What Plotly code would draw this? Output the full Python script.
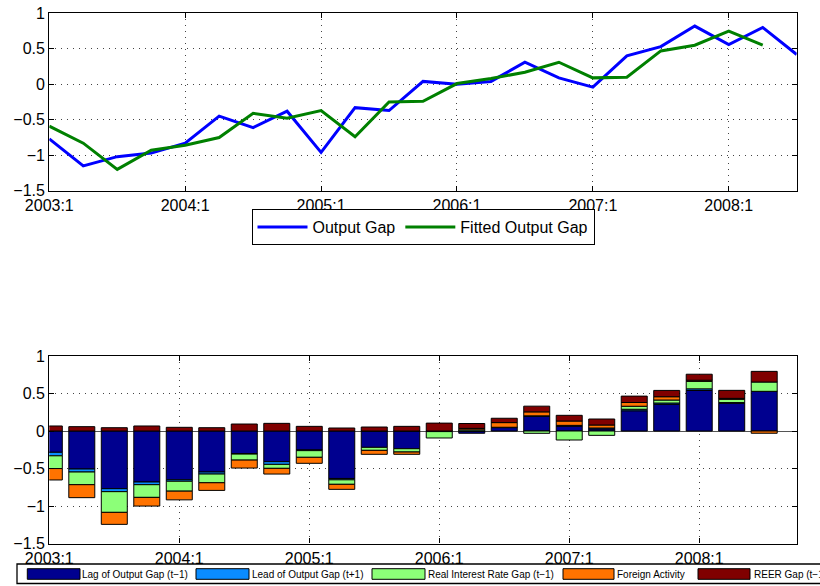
import plotly.graph_objects as go

# ---- data -------------------------------------------------------------
quarter_idx = list(range(23))                      # 2003:1 ... 2008:3
tick_idx = [0, 4, 8, 12, 16, 20]
tick_text = ["2003:1", "2004:1", "2005:1", "2006:1", "2007:1", "2008:1"]

output_gap = [-0.77, -1.15, -1.02, -0.97, -0.83, -0.45, -0.61, -0.38, -0.96, -0.33,
              -0.37, 0.04, 0.00, 0.04, 0.31, 0.09, -0.04, 0.40, 0.53, 0.82,
              0.56, 0.80, 0.42]
fitted_gap = [-0.59, -0.83, -1.20, -0.93, -0.86, -0.75, -0.41, -0.48, -0.37, -0.74,
              -0.25, -0.24, 0.01, 0.08, 0.17, 0.31, 0.09, 0.10, 0.47, 0.55,
              0.75, 0.55]

lag_gap = [-0.284, -0.507, -0.769, -0.680, -0.650, -0.547, -0.300, -0.409, -0.253, -0.633,
           -0.218, -0.236, -0.008, -0.030, 0.045, 0.196, 0.065, 0.028, 0.270, 0.355,
           0.540, 0.369, 0.529]
lead_gap = [-0.047, -0.040, -0.040, -0.036, -0.020, -0.027, -0.008, -0.036, -0.009, -0.018,
            0.0, 0.0, 0.0, 0.0, 0.005, 0.006, 0.010, 0.012, 0.020, 0.018,
            0.022, 0.010, 0.0]
real_rate_gap = [-0.170, -0.169, -0.276, -0.169, -0.132, -0.116, -0.080, -0.053, -0.089, -0.060,
                 -0.040, -0.044, -0.085, 0.015, 0.0, -0.031, -0.120, -0.058, 0.040, 0.040,
                 0.100, 0.044, 0.124]
foreign_activity = [-0.152, -0.173, -0.160, -0.116, -0.116, -0.102, -0.106, -0.076, -0.080, -0.067,
                    -0.053, -0.031, 0.0, 0.020, 0.062, 0.053, 0.058, 0.040, 0.050, 0.044,
                    0.015, 0.012, -0.030]
reer_gap = [0.067, 0.058, 0.044, 0.067, 0.049, 0.044, 0.093, 0.102, 0.062, 0.040,
            0.053, 0.062, 0.105, 0.065, 0.058, 0.076, 0.076, 0.080, 0.085, 0.084,
            0.080, 0.107, 0.142]

contrib_names = ["Lag of Output Gap (t\u22121)", "Lead of Output Gap (t+1)",
                 "Real Interest Rate Gap (t\u22121)", "Foreign Activity", "REER Gap (t\u22121)"]
contrib_values = [lag_gap, lead_gap, real_rate_gap, foreign_activity, reer_gap]
contrib_colors = ["#00008F", "#0A8CFF", "#8CFF78", "#FF7300", "#800000"]

# ---- geometry helpers (pixel -> paper) -------------------------------
W, H = 820, 586


def fx(p):
    return p / W


def fy(p):
    return 1 - p / H


FONT = "Liberation Sans, Arial, Helvetica, sans-serif"

fig = go.Figure()

# top panel: output gap vs fitted
fig.add_trace(go.Scatter(x=quarter_idx, y=output_gap, mode="lines", name="Output Gap",
                         line=dict(color="#0000FF", width=3), xaxis="x", yaxis="y"))
fig.add_trace(go.Scatter(x=quarter_idx[:len(fitted_gap)], y=fitted_gap, mode="lines",
                         name="Fitted Output Gap",
                         line=dict(color="#008000", width=3), xaxis="x", yaxis="y"))

# bottom panel: stacked contributions
for name, vals, col in zip(contrib_names, contrib_values, contrib_colors):
    fig.add_trace(go.Bar(x=quarter_idx, y=vals, name=name, width=0.8,
                         marker=dict(color=col, line=dict(color="black", width=1)),
                         showlegend=False, xaxis="x2", yaxis="y2"))

axis_common = dict(
    automargin=False,
    showline=True, linecolor="black", linewidth=1.3, mirror="allticks",
    ticks="inside", ticklen=5, tickcolor="black", tickwidth=1,
    showgrid=True, gridcolor="#444444", griddash="1px,5px", gridwidth=1,
    tickfont=dict(family=FONT, size=16, color="black"),
)

x_dom = [fx(49.3), fx(796.7)]

fig.update_layout(
    width=W, height=H,
    margin=dict(l=0, r=0, t=0, b=0, autoexpand=False),
    paper_bgcolor="white", plot_bgcolor="white",
    font=dict(family=FONT, color="black"),
    barmode="relative", bargap=0.2,
    xaxis=dict(domain=x_dom, range=[0, 22], tickvals=tick_idx, ticktext=tick_text,
               anchor="y", zeroline=False, **axis_common),
    yaxis=dict(domain=[fy(190.7), fy(13.3)], range=[-1.5, 1], dtick=0.5,
               anchor="x", zeroline=False, **axis_common),
    xaxis2=dict(domain=x_dom, range=[0, 23], tickvals=tick_idx, ticktext=tick_text,
                anchor="y2", zeroline=False, **axis_common),
    yaxis2=dict(domain=[fy(543.5), fy(356)], range=[-1.5, 1], dtick=0.5,
                anchor="x2", zeroline=True, zerolinecolor="#555555", zerolinewidth=1,
                **axis_common),
    legend=dict(orientation="h", x=fx(423), xanchor="center", y=fy(209), yanchor="top",
                bordercolor="black", borderwidth=1, bgcolor="white",
                font=dict(family=FONT, size=16, color="black"), itemwidth=50),
)

# legend strip for the contribution bars
shapes = [dict(type="rect", xref="paper", yref="paper",
               x0=fx(17), x1=fx(830), y0=fy(583.5), y1=fy(564),
               line=dict(color="black", width=1.3), fillcolor="white", layer="above")]
annotations = []
swatch_x = [(27.3, 80), (196, 249), (372, 425), (563, 614), (698, 750)]
text_x = [81, 251, 427, 616, 753]
for (x0, x1), tx, name, col in zip(swatch_x, text_x, contrib_names, contrib_colors):
    shapes.append(dict(type="rect", xref="paper", yref="paper",
                       x0=fx(x0), x1=fx(x1), y0=fy(579.3), y1=fy(568.7),
                       line=dict(color="black", width=1), fillcolor=col, layer="above"))
    annotations.append(dict(xref="paper", yref="paper", x=fx(tx), y=fy(574),
                            xanchor="left", yanchor="middle", showarrow=False,
                            borderpad=0,
                            text=name, font=dict(family=FONT, size=10, color="black")))

fig.update_layout(shapes=shapes, annotations=annotations)

fig.write_html("out.html")
